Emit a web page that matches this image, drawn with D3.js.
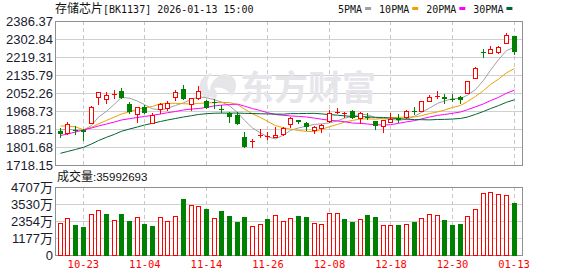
<!DOCTYPE html>
<html>
<head>
<meta charset="utf-8">
<script src="https://cdn.jsdelivr.net/npm/d3@7"></script>
<style>
    html, body { margin: 0; padding: 0; background: #fff; }
    svg { display: block; }
</style>
</head>
<body>
<div id="chart"></div>
<script>
const dates = [
    '10-20', '10-21', '10-22', '10-23', '10-24', '10-27', '10-28', '10-29', '10-30', '10-31',
    '11-03', '11-04', '11-05', '11-06', '11-07', '11-10', '11-11', '11-12', '11-13', '11-14',
    '11-17', '11-18', '11-19', '11-20', '11-21', '11-24', '11-25', '11-26', '11-27', '11-28',
    '12-01', '12-02', '12-03', '12-04', '12-05', '12-08', '12-09', '12-10', '12-11', '12-12',
    '12-15', '12-16', '12-17', '12-18', '12-19', '12-22', '12-23', '12-24', '12-25', '12-26',
    '12-29', '12-30', '12-31', '01-05', '01-06', '01-07', '01-08', '01-09', '01-12', '01-13'
];
const open = [
    1877.3, 1868.0, 1881.9, 1880.5, 1911.6, 2032.3, 2023.0, 2041.6, 2061.5, 2002.6,
    1953.4, 1988.7, 1914.4, 1976.6, 1981.3, 2031.4, 2069.4, 1999.8, 2030.4, 2016.5,
    2009.1, 1978.0, 1958.0, 1950.2, 1849.5, 1824.9, 1856.0, 1848.1, 1849.5, 1860.6,
    1907.0, 1927.0, 1914.4, 1880.5, 1891.2, 1922.3, 1959.4, 1956.2, 1968.7, 1934.8,
    1943.2, 1922.3, 1900.5, 1919.1, 1937.6, 1939.5, 1971.0, 1970.1, 2015.1, 2032.3,
    2035.1, 2024.4, 2035.1, 2050.9, 2120.5, 2240.2, 2236.5, 2243.9, 2282.9, 2316.7
];
const high = [
    1889.8, 1919.1, 1899.1, 1885.2, 1991.9, 2058.3, 2058.3, 2066.2, 2076.8, 2011.9,
    1988.7, 1996.6, 1958.0, 2007.2, 2016.5, 2066.2, 2089.4, 2030.4, 2084.7, 2019.8,
    2023.0, 1996.6, 1965.5, 1965.5, 1872.7, 1837.4, 1883.8, 1872.7, 1895.9, 1895.9,
    1942.3, 1927.0, 1919.1, 1899.1, 1907.0, 1973.4, 1981.3, 1965.5, 1973.4, 1965.5,
    1958.0, 1922.3, 1927.0, 1958.0, 1954.8, 1973.4, 1985.0, 2015.1, 2043.0, 2061.5,
    2047.6, 2047.6, 2038.3, 2109.3, 2174.3, 2255.0, 2270.3, 2270.3, 2332.1, 2316.7
];
const low = [
    1846.7, 1862.0, 1862.0, 1834.1, 1911.6, 1999.8, 2007.2, 2027.7, 2030.4, 1960.8,
    1919.1, 1958.0, 1911.6, 1960.8, 1973.4, 2019.8, 2024.4, 1973.4, 2023.0, 1984.0,
    1981.3, 1962.7, 1919.1, 1908.4, 1800.3, 1800.3, 1846.7, 1837.4, 1849.5, 1857.3,
    1895.9, 1913.0, 1880.5, 1865.2, 1872.7, 1919.1, 1958.0, 1942.3, 1934.8, 1914.4,
    1930.2, 1883.8, 1869.9, 1919.1, 1919.1, 1934.8, 1954.8, 1970.1, 2015.1, 2030.4,
    2007.2, 2015.1, 2007.2, 2050.9, 2120.5, 2217.9, 2236.5, 2236.5, 2282.9, 2233.2
];
const close = [
    1862.0, 1908.4, 1879.1, 1873.6, 1985.9, 2055.5, 2043.0, 2046.2, 2030.4, 1965.5,
    1988.7, 1960.8, 1950.2, 2001.2, 2004.5, 2054.6, 2024.4, 2027.7, 2061.5, 1984.0,
    2005.8, 1973.4, 1939.5, 1908.4, 1800.3, 1828.1, 1858.7, 1851.3, 1857.3, 1891.2,
    1934.8, 1915.4, 1895.9, 1895.9, 1903.7, 1958.0, 1961.8, 1958.0, 1934.8, 1958.0,
    1940.9, 1900.5, 1927.0, 1930.2, 1927.0, 1968.7, 1968.0, 2015.1, 2032.3, 2036.9,
    2023.0, 2022.1, 2019.8, 2109.3, 2166.9, 2237.9, 2255.0, 2264.3, 2321.4, 2243.9
];
const prevClose = 1855.0;
// volume in 万 (10k shares)
const volume = [
    2226, 2529, 2067, 1929, 2825, 3101, 2846, 2412, 2846, 2343,
    2619, 2157, 1998, 2619, 2343, 2687, 3859, 3445, 3376, 3190,
    2529, 3053, 2687, 2295, 2619, 1998, 2136, 2481, 2756, 2343,
    2529, 2687, 2619, 2226, 2136, 2915, 2915, 2481, 2295, 2481,
    2777, 2619, 2067, 2067, 2067, 2136, 2295, 2529, 2825, 2756,
    2412, 2067, 2136, 2687, 3217, 4320, 4389, 4204, 4135, 3599.2693
];
const ma5 = [
    1880.0, 1885.0, 1880.0, 1880.0, 1901.8, 1940.5, 1967.4, 2000.8, 2032.2, 2028.1,
    2014.8, 1998.3, 1979.1, 1973.3, 1981.1, 1994.3, 2007.0, 2022.5, 2034.5, 2030.4,
    2020.7, 2010.5, 1992.8, 1962.2, 1925.5, 1889.9, 1867.0, 1849.4, 1839.1, 1857.3,
    1878.7, 1890.0, 1898.9, 1906.6, 1909.1, 1913.8, 1923.1, 1935.5, 1943.3, 1954.1,
    1950.7, 1938.4, 1932.2, 1931.3, 1925.1, 1930.7, 1944.2, 1961.8, 1982.2, 2004.1,
    2015.1, 2025.9, 2026.8, 2042.2, 2068.2, 2111.2, 2157.8, 2206.7, 2249.1, 2264.5
];
const ma10 = [
    1899.0, 1899.0, 1895.0, 1882.0, 1893.0, 1909.0, 1925.0, 1941.0, 1955.0, 1965.0,
    1977.6, 1982.9, 1990.0, 2002.7, 2004.6, 2004.5, 2002.7, 2000.8, 2003.9, 2005.8,
    2007.5, 2008.7, 2007.7, 1998.4, 1978.0, 1955.3, 1938.7, 1921.1, 1900.7, 1891.4,
    1884.3, 1878.5, 1874.1, 1872.9, 1883.2, 1896.2, 1906.5, 1917.2, 1925.0, 1931.6,
    1932.2, 1930.8, 1933.9, 1937.3, 1939.6, 1940.7, 1941.3, 1947.0, 1956.7, 1964.6,
    1972.8, 1985.1, 1994.4, 2012.3, 2036.3, 2063.2, 2091.8, 2116.8, 2145.7, 2166.4
];
const ma20 = [
    1855.0, 1862.0, 1871.3, 1880.6, 1889.9, 1899.1, 1908.4, 1917.7, 1927.0, 1933.0,
    1938.6, 1943.2, 1948.8, 1954.8, 1960.8, 1966.4, 1973.4, 1978.0, 1980.0, 1985.4,
    1992.6, 1995.8, 1998.8, 2000.6, 1991.3, 1979.9, 1970.7, 1961.0, 1952.3, 1948.6,
    1945.9, 1943.6, 1940.9, 1935.6, 1930.6, 1925.8, 1922.6, 1919.2, 1912.8, 1911.5,
    1908.3, 1904.6, 1904.0, 1905.1, 1911.4, 1918.5, 1924.0, 1932.1, 1940.8, 1948.2,
    1952.6, 1957.9, 1964.1, 1974.8, 1988.0, 2001.9, 2016.6, 2031.9, 2051.3, 2065.5
];
const ma30 = [
    1772.4, 1780.8, 1790.1, 1800.3, 1815.6, 1831.8, 1846.7, 1860.6, 1874.6, 1885.2,
    1894.5, 1903.8, 1911.7, 1920.0, 1927.0, 1933.9, 1940.9, 1946.9, 1952.5, 1956.2,
    1958.5, 1959.0, 1959.0, 1959.0, 1958.0, 1957.0, 1956.0, 1955.0, 1954.5, 1954.0,
    1956.5, 1956.7, 1957.3, 1958.0, 1955.3, 1952.0, 1949.3, 1946.4, 1943.2, 1942.9,
    1941.3, 1939.3, 1938.6, 1936.2, 1933.6, 1930.7, 1928.9, 1928.5, 1927.5, 1929.3,
    1929.8, 1931.5, 1934.1, 1940.8, 1953.0, 1966.7, 1979.9, 1993.7, 2009.2, 2020.9
];
const priceTicks = [1718.15, 1801.68, 1885.21, 1968.73, 2052.26, 2135.79, 2219.31, 2302.84, 2386.37];
const volTicks = [0, 1176.75, 2353.5, 3530.25, 4707];
const dateTicks = ['10-23', '11-04', '11-14', '11-26', '12-08', '12-18', '12-30', '01-13'];
const maNames = ['5PMA', '10PMA', '20PMA', '30PMA'];
const maColors = ['#a0a0a0', '#f0a000', '#ff00ff', '#006633'];
const maSeries = [ma5, ma10, ma20, ma30];

const W = 578, H = 276;
const left = 55, right = 522;
const mainTop = 21, mainBottom = 165;
const volTop = 187, volBottom = 255;
const red = '#ff0000', green = '#008000';
const mono = '"DejaVu Sans Mono", monospace';
const cjk = '"Noto Sans CJK SC", sans-serif';
const sans = '"Liberation Sans", Arial, "Noto Sans CJK SC", sans-serif';

const x = d3.scaleBand().domain(dates).range([56.45, 517.85]);
const cx = d => Math.floor(x(d) + x.bandwidth() / 2) + 0.5;
const y = d3.scaleLinear()
    .domain([priceTicks[0], priceTicks[priceTicks.length - 1]])
    .range([mainBottom, mainTop]);
const yv = d3.scaleLinear()
    .domain([0, volTicks[volTicks.length - 1]])
    .range([volBottom, volTop]);

const candles = dates.map((d, i) => ({
    d, o: open[i], h: high[i], l: low[i], c: close[i], v: volume[i],
    up: close[i] >= open[i],
    volUp: close[i] >= (i ? close[i - 1] : prevClose)
}));

const svg = d3.select('#chart').append('svg')
    .attr('width', W).attr('height', H)
    .style('background', '#fff');

// horizontal grid + price labels
const yAxis = d3.axisLeft(y)
    .tickValues(priceTicks)
    .tickSize(-(right - left))
    .tickPadding(2)
    .tickFormat(d3.format('.2f'));
const vAxis = d3.axisLeft(yv)
    .tickValues(volTicks)
    .tickSize(-(right - left))
    .tickPadding(2)
    .tickFormat(d => Math.round(d) + (d ? '万' : ''));

const styleAxis = g => {
    g.select('.domain').remove();
    g.selectAll('.tick line').attr('stroke', '#d0d0d0');
    g.selectAll('.tick text')
        .attr('fill', '#1a1a2e')
        .style('font-family', sans)
        .style('font-size', '13px');
};

svg.append('g').attr('transform', `translate(${left},0)`).call(yAxis).call(styleAxis);
svg.append('g').attr('transform', `translate(${left},0)`).call(vAxis).call(styleAxis);

// vertical dashed grid
[[mainTop, mainBottom], [volTop, volBottom]].forEach(([t, b]) => {
    svg.append('g').selectAll('line')
        .data(dateTicks)
        .join('line')
        .attr('x1', cx).attr('x2', cx)
        .attr('y1', t).attr('y2', b)
        .attr('stroke', '#c8c8c8')
        .attr('stroke-dasharray', '4,3');
});

// watermark
const wm = svg.append('g').attr('fill', '#e6e6ea');
wm.append('path')
    .attr('d', 'M205,98 C196,90 198,76 212,73 C205,80 206,90 214,96 Z M214,100 C206,92 210,78 224,74 C236,74 240,86 232,96 C228,90 222,86 214,88 C218,92 218,97 214,100 Z');
wm.append('text')
    .attr('x', 240).attr('y', 100)
    .style('font-family', cjk)
    .style('font-size', '34px')
    .style('font-weight', 'bold')
    .text('东方财富');

// frames
[[mainTop, mainBottom], [volTop, volBottom]].forEach(([t, b]) => {
    svg.append('rect')
        .attr('x', left + 0.5).attr('y', t + 0.5)
        .attr('width', right - left).attr('height', b - t)
        .attr('fill', 'none')
        .attr('stroke', '#909090');
});

// moving averages
const line = d3.line().x((d, i) => cx(dates[i])).y(d => y(d));
svg.append('g').selectAll('path')
    .data(maSeries)
    .join('path')
    .attr('d', line)
    .attr('fill', 'none')
    .attr('stroke', (d, i) => maColors[i])
    .attr('stroke-width', 1);

// candles
const cg = svg.append('g').attr('shape-rendering', 'crispEdges');
cg.selectAll('line')
    .data(candles)
    .join('line')
    .attr('x1', d => cx(d.d)).attr('x2', d => cx(d.d))
    .attr('y1', d => Math.round(y(d.h)))
    .attr('y2', d => Math.round(y(d.l)) + 1)
    .attr('stroke', d => (d.up ? red : green));

cg.selectAll('rect')
    .data(candles)
    .join('rect')
    .each(function (d) {
        const top = Math.round(y(Math.max(d.o, d.c)));
        const bot = Math.round(y(Math.min(d.o, d.c)));
        const r = d3.select(this);
        if (d.up && bot - top >= 2) {
            r.attr('x', cx(d.d) - 2).attr('y', top + 0.5)
                .attr('width', 4).attr('height', bot - top)
                .attr('fill', '#fff').attr('stroke', red);
        } else {
            r.attr('x', cx(d.d) - 2.5).attr('y', top)
                .attr('width', 5).attr('height', Math.max(bot - top, 1))
                .attr('fill', d.up ? red : green);
        }
    });

// volume bars
svg.append('g').attr('shape-rendering', 'crispEdges')
    .selectAll('rect')
    .data(candles)
    .join('rect')
    .each(function (d) {
        const top = Math.round(yv(d.v));
        const r = d3.select(this);
        if (d.volUp) {
            r.attr('x', cx(d.d) - 2).attr('y', top + 0.5)
                .attr('width', 4).attr('height', volBottom - top)
                .attr('fill', '#fff').attr('stroke', red);
        } else {
            r.attr('x', cx(d.d) - 2.5).attr('y', top)
                .attr('width', 5).attr('height', volBottom - top + 1)
                .attr('fill', green);
        }
    });

// date labels
svg.append('g')
    .attr('transform', `translate(0,${volBottom})`)
    .call(d3.axisBottom(x).tickValues(dateTicks).tickSize(0).tickPadding(6))
    .call(g => g.select('.domain').remove())
    .call(g => g.selectAll('.tick text')
        .attr('fill', red)
        .style('font-family', mono)
        .style('font-size', '10.5px'));

// title
const title = svg.append('text').attr('x', left).attr('y', 13).attr('fill', '#111');
title.append('tspan').style('font-family', cjk).style('font-size', '12px').text('存储芯片');
title.append('tspan').style('font-family', mono).style('font-size', '10px').text('[BK1137] 2026-01-13 15:00');

// legend
let lx = 338;
maNames.forEach((name, i) => {
    const t = svg.append('text')
        .attr('x', lx).attr('y', 13)
        .attr('fill', '#111')
        .style('font-family', mono)
        .style('font-size', '10px')
        .text(name);
    const w = t.node().getComputedTextLength();
    svg.append('rect')
        .attr('x', lx + w + 3).attr('y', 7)
        .attr('width', 6).attr('height', 3)
        .attr('fill', maColors[i]);
    lx += w + 3 + 6 + 8;
});

// volume header
const vh = svg.append('text').attr('x', left + 2).attr('y', 181).attr('fill', '#111');
vh.append('tspan').style('font-family', cjk).style('font-size', '12px').text('成交量');
vh.append('tspan').style('font-family', sans).style('font-size', '11.5px')
    .text(':' + Math.round(volume[volume.length - 1] * 10000));
</script>
</body>
</html>
